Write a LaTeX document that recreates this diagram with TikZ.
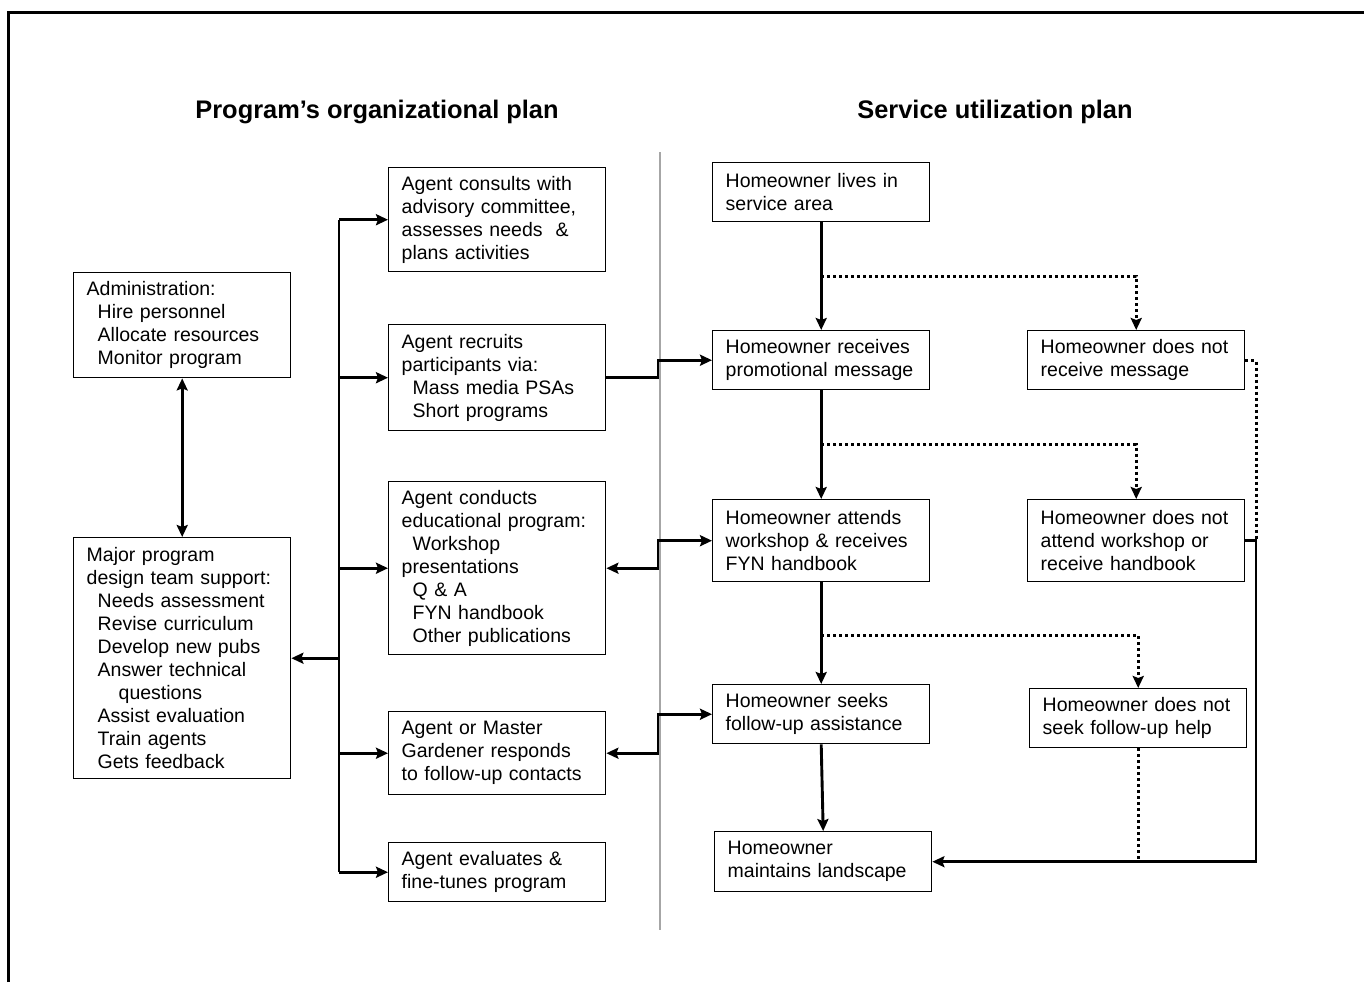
\documentclass[tikz,border=0pt]{standalone}
\usepackage{fontspec}
\setmainfont{Liberation Sans}
\usetikzlibrary{arrows.meta,calc}
\tikzset{
  box/.style={draw, line width=0.7pt, align=left, text width=#1, inner xsep=6.5pt, inner ysep=0pt,
    font=\fontsize{9.75}{11.5}\selectfont, anchor=north west},
  box/.default=95.5pt,
  conn/.style={line width=1.45pt, -{Stealth[length=6pt,width=5.5pt,inset=1pt]}},
  conn2/.style={line width=1.45pt, {Stealth[length=6pt,width=5.5pt,inset=1pt]}-{Stealth[length=6pt,width=5.5pt,inset=1pt]}},
  plain/.style={line width=1.45pt},
  dotl/.style={line width=1.5pt, dash pattern=on 1.5pt off 1.5pt},
  dotconn/.style={dotl, -{Stealth[length=6pt,width=5.5pt,inset=1pt]}},
  title/.style={font=\bfseries\fontsize{12.7}{15}\selectfont}
}
\newcommand{\ind}{\hspace*{5.5pt}}
\begin{document}
\begin{tikzpicture}[x=0.5pt,y=-0.5pt]
\useasboundingbox (0,0) rectangle (1364,982);
\draw[line width=1.5pt] (8,982) -- (8,12) -- (1364,12);

\node[title] (t1) at (377,112) {Program’s organizational plan};
\node[title] (t2) at (995,112) {Service utilization plan};

\draw[gray!70, line width=0.8pt] (660,152) coordinate (g1) -- (660,930) coordinate (g2);

% left column
\node[box, minimum height=52.5pt] (admin) at (73,272) {Administration:\\\ind Hire personnel\\\ind Allocate resources\\\ind Monitor program};
\node[box, minimum height=120.5pt] (major) at (73,537) {Major program\\design team support:\\\ind Needs assessment\\\ind Revise curriculum\\\ind Develop new pubs\\\ind Answer technical\\\hspace*{16pt}questions\\\ind Assist evaluation\\\ind Train agents\\\ind Gets feedback};

% middle column
\node[box, minimum height=52pt] (consults) at (388,167) {Agent consults with\\advisory committee,\\assesses needs\ \ \&\\plans activities};
\node[box, minimum height=53pt] (recruits) at (388,324) {Agent recruits\\participants via:\\\ind Mass media PSAs\\\ind Short programs};
\node[box, minimum height=86.5pt] (conducts) at (388,481) {Agent conducts\\educational program:\\\ind Workshop\\presentations\\\ind Q \& A\\\ind FYN handbook\\\ind Other publications};
\node[box, minimum height=41.5pt] (master) at (388,711) {Agent or Master\\Gardener responds\\to follow-up contacts};
\node[box, minimum height=29.5pt] (evaluates) at (388,842) {Agent evaluates \&\\fine-tunes program};

% right column
\node[box, minimum height=29.5pt] (lives) at (712,162) {Homeowner lives in\\service area};
\node[box, minimum height=29.5pt] (promo) at (712,330) {Homeowner receives\\promotional message};
\node[box, minimum height=41pt] (attends) at (712,499) {Homeowner attends\\workshop \& receives\\FYN handbook};
\node[box, minimum height=29.5pt] (seeks) at (712,684) {Homeowner seeks\\follow-up assistance};
\node[box, minimum height=30pt] (maint) at (714,831) {Homeowner\\maintains landscape};

\node[box, minimum height=29.5pt] (no1) at (1027,330) {Homeowner does not\\receive message};
\node[box, minimum height=41pt] (no2) at (1027,499) {Homeowner does not\\attend workshop or\\receive handbook};
\node[box, minimum height=29.5pt] (no3) at (1029,688) {Homeowner does not\\seek follow-up help};

% bus
\coordinate (bus) at (339,0);
\coordinate (jog) at (658,0);
\coordinate (rx) at (1256,0);
\draw[plain] (consults.west -| bus) -- (evaluates.west -| bus);
\foreach \n in {consults,recruits,conducts,master,evaluates}
  \draw[conn] (\n.west -| bus) -- (\n.west);
\draw[conn] (major.east -| bus) -- (major.east);
\draw[conn2] (admin.south) -- (major.north);

% cross links
\draw[conn] (recruits.east) -- (recruits.east -| jog) |- (promo.west);
\draw[conn2] (conducts.east) -- (conducts.east -| jog) |- (attends.west);
\draw[conn2] (master.east) -- (master.east -| jog) |- (seeks.west);

% main column
\draw[conn] (lives.south) -- (promo.north);
\draw[conn] (promo.south) -- (attends.north);
\draw[conn] (attends.south) -- (seeks.north);
\draw[conn] (seeks.south) -- (maint.north);

% dotted branches
\coordinate (d1) at ($(lives.south)!0.5!(promo.north)$);
\coordinate (d2) at ($(promo.south)!0.5!(attends.north)$);
\coordinate (d3) at ($(attends.south)!0.52!(seeks.north)$);
\draw[dotconn] (d1) -| (no1.north);
\draw[dotconn] (d2) -| (no2.north);
\draw[dotconn] (d3) -| (no3.north);

% right loop
\coordinate (j) at (no2.east -| rx);
\draw[dotl] (no1.east) -| (j);
\draw[conn] (no2.east) -- (j) |- (maint.east);
\draw[dotl] (no3.south) -- (no3.south |- maint.east);
\end{tikzpicture}
\end{document}
